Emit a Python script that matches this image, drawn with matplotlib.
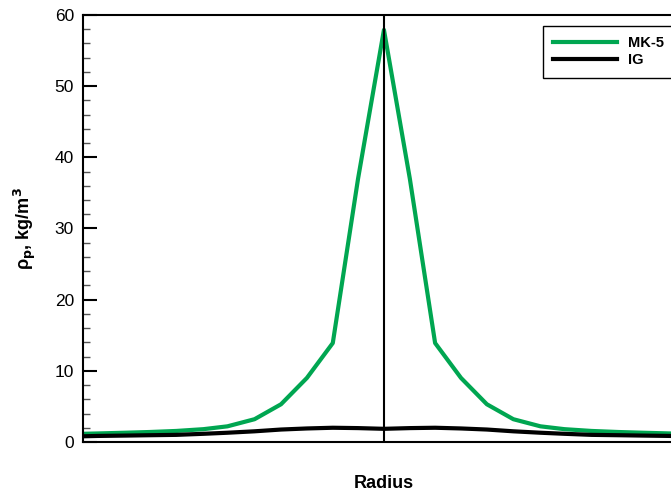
import numpy as np
import matplotlib.pyplot as plt
from matplotlib.ticker import MultipleLocator

plt.rcParams['font.family'] = ['Liberation Sans', 'DejaVu Sans']

# ====== data ======
r_half = [0.0, 0.086, 0.17, 0.256, 0.342, 0.43, 0.52, 0.60, 0.69, 0.78, 0.86, 0.95, 1.0]
mk5_half = [57.9, 37.0, 13.9, 9.0, 5.3, 3.2, 2.2, 1.8, 1.55, 1.4, 1.3, 1.2, 1.15]
ig_half = [1.85, 1.95, 2.0, 1.9, 1.75, 1.5, 1.3, 1.15, 1.0, 0.95, 0.9, 0.85, 0.8]
# =====================================

r = np.concatenate([-np.array(r_half[:0:-1]), np.array(r_half)])
mk5 = np.concatenate([mk5_half[:0:-1], mk5_half])
ig = np.concatenate([ig_half[:0:-1], ig_half])

fig = plt.figure(figsize=(6.71, 4.96), dpi=100)
ax = fig.add_axes([0.1237, 0.1089, 0.897, 0.861])

ax.plot(r, mk5, color='#00a651', lw=3, label='MK-5')
ax.plot(r, ig, color='black', lw=3, label='IG')
ax.axvline(0, color='black', lw=1.5)

ax.set_xlim(-1, 1)
ax.set_ylim(0, 60)
ax.set_xticks([])
ax.yaxis.set_major_locator(MultipleLocator(10))
ax.yaxis.set_minor_locator(MultipleLocator(2))
ax.tick_params(axis='y', which='major', direction='in', length=10, width=1.5,
               labelsize=12.5, pad=6.5)
ax.tick_params(axis='y', which='minor', direction='in', length=5, width=1, color='#555555')
for s in ax.spines.values():
    s.set_linewidth(1.5)

ax.set_xlabel('Radius', fontsize=13, fontweight='bold', labelpad=24)
ax.set_ylabel('ρ$_\\mathbf{p}$, kg/m$^\\mathbf{3}$', fontsize=13, fontweight='bold', labelpad=12)

leg = ax.legend(loc='upper left', bbox_to_anchor=(0.764, 0.975), fancybox=False,
                edgecolor='black', framealpha=1, handlelength=4.4,
                prop={'weight': 'bold', 'size': 10.5}, borderaxespad=0,
                borderpad=0.7, labelspacing=0.25, handletextpad=0.75)
leg.get_frame().set_linewidth(1)

fig.savefig('out.png', dpi=100)
